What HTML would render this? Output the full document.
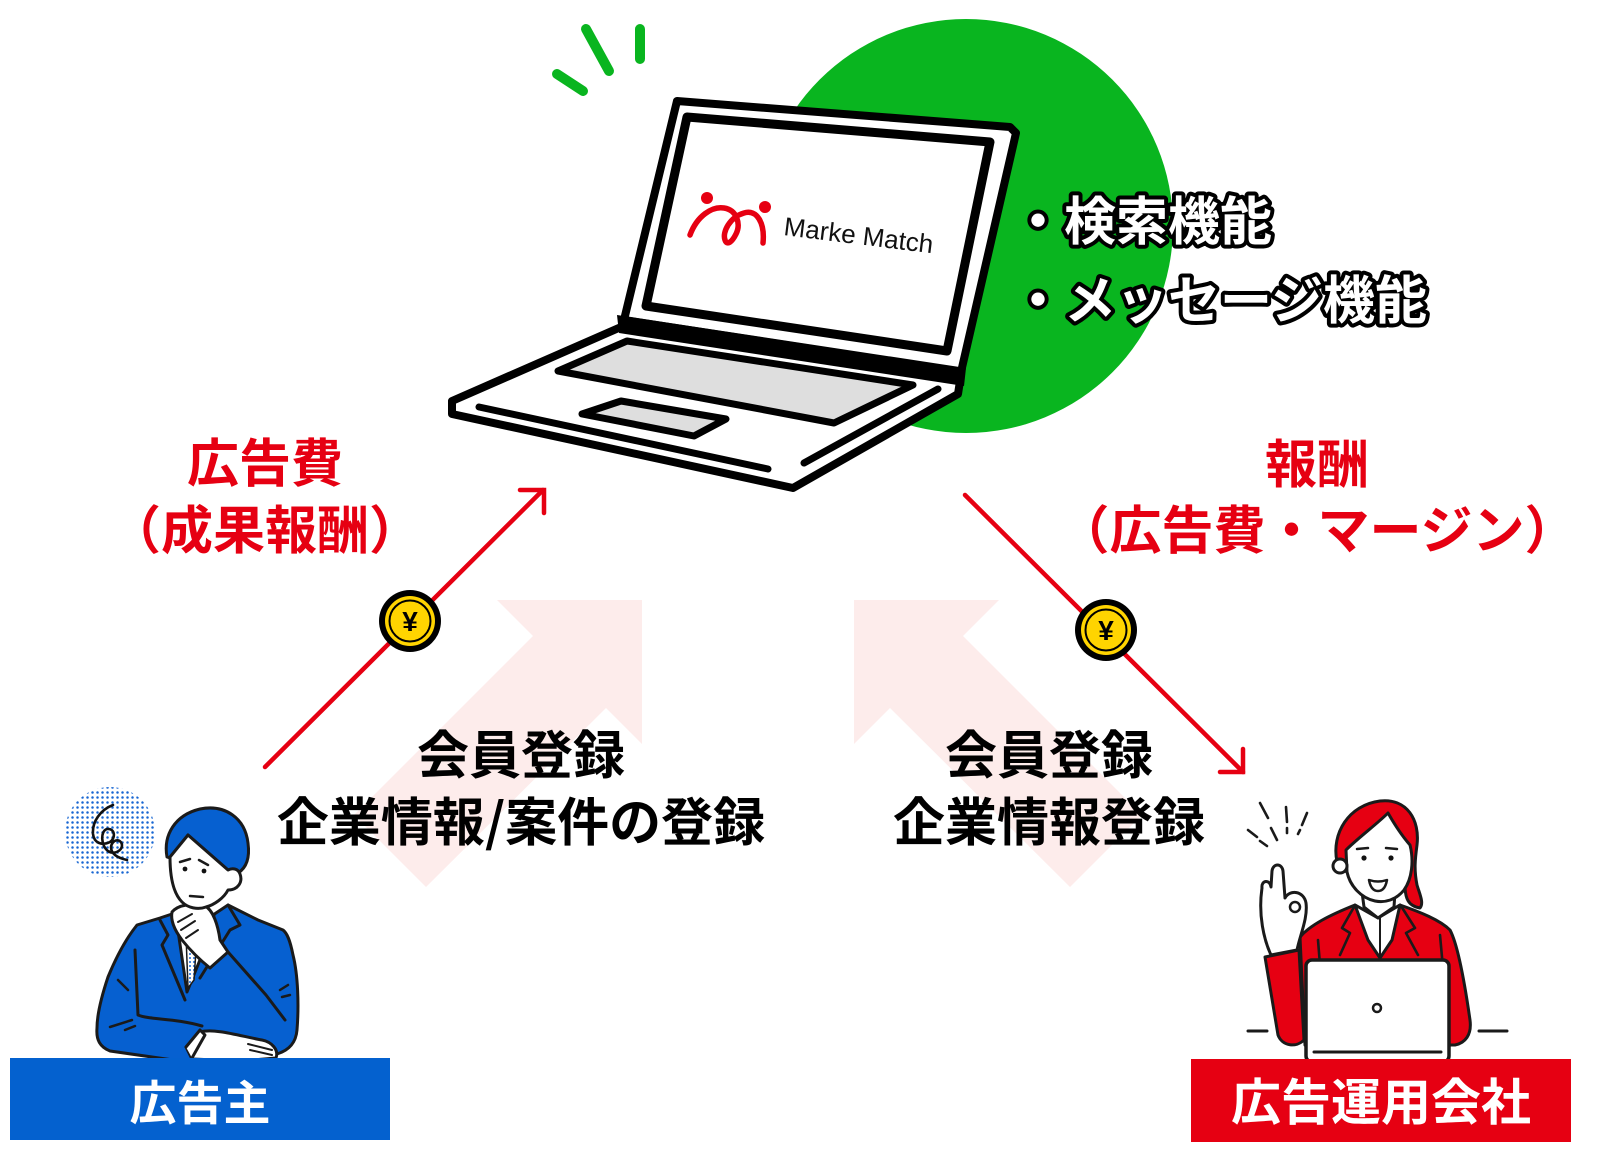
<!DOCTYPE html>
<html lang="ja">
<head>
<meta charset="utf-8">
<style>
  html,body{margin:0;padding:0;background:#fff;}
  body{width:1600px;height:1160px;overflow:hidden;}
  svg{display:block;}
  .jp{font-family:"Liberation Sans","Noto Sans CJK JP",sans-serif;font-weight:700;}
</style>
</head>
<body>
<svg width="1600" height="1160" viewBox="0 0 1600 1160" xmlns="http://www.w3.org/2000/svg">
  <defs>
    <pattern id="dots" width="5" height="5" patternUnits="userSpaceOnUse">
      <circle cx="2.5" cy="2.5" r="1.25" fill="#1766d2"/>
    </pattern>
    <pattern id="tiedots" width="4" height="4" patternUnits="userSpaceOnUse">
      <rect width="4" height="4" fill="#fff"/>
      <circle cx="2" cy="2" r="1" fill="#1766d2"/>
    </pattern>
  </defs>

  <!-- pale pink big arrows -->
  <polygon points="497,600 642,600 642,744 606,708 426,887 354,815 533,636" fill="#fdeceb"/>
  <polygon points="999,600 854,600 854,744 890,708 1070,887 1142,815 963,636" fill="#fdeceb"/>

  <!-- green circle -->
  <circle cx="966" cy="226" r="207" fill="#09b51f"/>

  <!-- green marks -->
  <g stroke="#09b51f" stroke-width="10" stroke-linecap="round" fill="none">
    <line x1="557" y1="74" x2="583" y2="91"/>
    <line x1="586" y1="29" x2="609" y2="71"/>
    <line x1="640" y1="29" x2="640" y2="59"/>
  </g>

  <!-- laptop base -->
  <polygon points="452,401 621,327 960,381 958,394 793,488 452,414" fill="#fff" stroke="#000" stroke-width="8" stroke-linejoin="round"/>
  <polygon points="558,371 627,341 913,385 834,423" fill="#dedede" stroke="#000" stroke-width="7" stroke-linejoin="round"/>
  <polygon points="582,414 621,401 726,419 694,436" fill="#dedede" stroke="#000" stroke-width="7" stroke-linejoin="round"/>
  <line x1="479" y1="407" x2="768" y2="469" stroke="#000" stroke-width="7" stroke-linecap="round"/>
  <line x1="804" y1="463" x2="938" y2="389" stroke="#000" stroke-width="7" stroke-linecap="round"/>

  <!-- laptop lid -->
  <polygon points="677,101 1010,127 1016,133 961,372 624,320" fill="#fff" stroke="#000" stroke-width="8" stroke-linejoin="round"/>
  <polygon points="687,117 990,142 947,351 646,306" fill="#fff" stroke="#000" stroke-width="9" stroke-linejoin="round"/>
  <polygon points="617,315 966,368 964,386 619,333" fill="#000"/>

  <!-- logo -->
  <g fill="none" stroke="#e60012" stroke-width="5.5" stroke-linecap="round" stroke-linejoin="round">
    <path d="M690,235 C697,216 712,206 724,208 C737,210 741,224 736,234 C732,242 727,246 725,240 C722,232 730,217 744,213 C757,209 765,223 763,243"/>
  </g>
  <circle cx="707" cy="198" r="6" fill="#e60012"/>
  <circle cx="765" cy="207" r="6" fill="#e60012"/>
  <text x="783" y="235" transform="rotate(7 783 235)" font-family="'Liberation Sans',sans-serif" font-size="26" fill="#111">Marke Match</text>

  <!-- feature text -->
  <g class="jp" font-size="52" fill="#fff" stroke="#000" stroke-width="8" stroke-linejoin="round" paint-order="stroke">
    <text x="1012" y="240">・検索機能</text>
    <text x="1012" y="319">・メッセージ機能</text>
  </g>

  <!-- red arrows -->
  <g stroke="#e60012" stroke-width="4.5" fill="none" stroke-linecap="round" stroke-linejoin="miter">
    <line x1="265" y1="767" x2="543" y2="490"/>
    <polyline points="520,490 544,490 544,513"/>
    <line x1="965" y1="495" x2="1243" y2="772"/>
    <polyline points="1243,749 1243,772 1220,772"/>
  </g>

  <!-- coins -->
  <g>
    <circle cx="410" cy="621" r="31" fill="#000"/>
    <circle cx="410" cy="621" r="25" fill="#ffd400"/>
    <circle cx="410" cy="621" r="20.5" fill="none" stroke="#000" stroke-width="2"/>
    <text x="410" y="631" text-anchor="middle" font-family="'Liberation Sans','DejaVu Sans',sans-serif" font-weight="700" font-size="28" fill="#000">¥</text>
  </g>
  <g>
    <circle cx="1106" cy="630" r="31" fill="#000"/>
    <circle cx="1106" cy="630" r="25" fill="#ffd400"/>
    <circle cx="1106" cy="630" r="20.5" fill="none" stroke="#000" stroke-width="2"/>
    <text x="1106" y="640" text-anchor="middle" font-family="'Liberation Sans','DejaVu Sans',sans-serif" font-weight="700" font-size="28" fill="#000">¥</text>
  </g>

  <!-- red labels -->
  <g class="jp" font-size="52" fill="#e60012" text-anchor="middle">
    <text x="265" y="482">広告費</text>
    <text x="265" y="549">（成果報酬）</text>
    <text x="1317" y="483">報酬</text>
    <text x="1317" y="549">（広告費・マージン）</text>
  </g>

  <!-- middle texts -->
  <g class="jp" font-size="52" fill="#000" text-anchor="middle">
    <text x="521" y="774">会員登録</text>
    <text x="521" y="841">企業情報<tspan font-family="'Noto Sans CJK JP',sans-serif">/</tspan>案件の登録</text>
    <text x="1049" y="774">会員登録</text>
    <text x="1049" y="841">企業情報登録</text>
  </g>

  <!-- ===== businessman ===== -->
  <circle cx="110" cy="832" r="45" fill="url(#dots)"/>
  <path d="M113,805 C100,810 92,822 93,834 C94,843 102,846 110,842 C116,838 115,828 107,829 C100,831 101,846 108,851 C114,855 122,851 122,845 C121,838 112,839 111,847 C111,854 118,858 127,860" fill="none" stroke="#111" stroke-width="2.6" stroke-linecap="round"/>

  <g stroke="#1a1a1a" stroke-width="3" stroke-linejoin="round" stroke-linecap="round">
    <!-- suit -->
    <path d="M137,925 C125,940 115,960 108,977 C102,995 97,1015 97,1028 C96,1040 100,1047 110,1051 L180,1061 L247,1058 L277,1054 C290,1050 296,1042 297,1030 C299,1005 298,975 293,955 C290,940 287,933 283,930 L258,920 L228,905 L213,915 L178,912 L160,918 Z" fill="#0660d0"/>
    <!-- shirt & tie -->
    <path d="M176,917 L187,992 L212,930 L214,915 Z" fill="#fff"/>
    <path d="M186,935 L197,935 L194,980 L188,988 Z" fill="url(#tiedots)" stroke-width="1.5"/>
    <!-- lapels -->
    <path d="M160,920 L168,935 L162,945 L185,1000" fill="none"/>
    <path d="M228,905 L240,925 L230,930 L200,978" fill="none"/>
    <!-- sleeve lines -->
    <path d="M135,950 L138,1015 C150,1020 175,1018 202,1026" fill="none"/>
    <path d="M228,952 L266,995 L285,1020" fill="none"/>
    <path d="M118,980 L128,990 M110,1027 L132,1020 M125,1030 L135,1026 M280,990 L288,985 M282,997 L290,995" fill="none" stroke-width="2.5"/>
    <!-- bottom hands -->
    <path d="M200,1032 C215,1028 240,1036 262,1040 C272,1042 279,1050 276,1058 L240,1061 L192,1059 L186,1047 Z" fill="#fff"/>
    <path d="M248,1044 L272,1050 M250,1050 L272,1055" fill="none" stroke-width="2"/>
    <path d="M186,1047 L200,1030 L205,1035 L192,1058" fill="#fff"/>
    <!-- chin hand -->
    <path d="M172,912 C178,905 190,903 205,906 C213,910 218,925 220,940 L228,952 L210,968 C200,960 190,950 182,940 C176,932 170,922 172,912 Z" fill="#fff"/>
    <path d="M178,922 L192,914 M181,930 L195,921 M186,938 L198,930" fill="none" stroke-width="2"/>
    <!-- hair -->
    <path d="M167,857 C163,835 175,815 200,809 C225,804 245,818 248,843 C250,858 246,868 238,873 L228,870 L188,835 L170,858 Z" fill="#0660d0"/>
    <!-- face -->
    <path d="M170,857 L188,835 L228,870 C232,868 238,868 240,874 C243,882 238,890 228,890 C224,898 214,905 206,907 C198,910 188,908 182,902 C174,894 170,880 170,857 Z" fill="#fff"/>
    <path d="M180,862 L190,859 M199,860 L208,865 M190,896 L203,897" fill="none" stroke-width="2.5"/>
  </g>
  <circle cx="185" cy="869" r="2.4" fill="#111"/>
  <circle cx="204" cy="871" r="2.4" fill="#111"/>

  <!-- ===== woman ===== -->
  <g stroke="#1a1a1a" stroke-width="3" stroke-linecap="round" stroke-linejoin="round">
    <!-- action lines -->
    <path d="M1260,803 L1268,818 M1271,828 L1277,840 M1286,807 L1287,822 M1287,828 L1287,833 M1307,813 L1302,825 M1300,830 L1298,834 M1248,830 L1257,837 M1260,841 L1267,846" fill="none" stroke-width="2.6"/>
    <!-- desk lines -->
    <path d="M1248,1031 L1267,1031 M1479,1031 L1507,1031" fill="none"/>
    <!-- hair back -->
    <path d="M1337,862 C1331,833 1349,805 1380,801 C1407,798 1420,820 1417,845 C1415,860 1414,870 1417,885 C1420,895 1424,903 1420,908 C1408,906 1405,898 1405,885 L1340,870 Z" fill="#e60012"/>
    <!-- jacket -->
    <path d="M1300,937 C1310,925 1330,915 1355,905 L1378,918 L1400,905 C1420,912 1440,920 1450,930 C1458,945 1465,985 1470,1020 C1472,1035 1465,1043 1455,1045 L1305,1045 Z" fill="#e60012"/>
    <!-- sleeve -->
    <path d="M1265,957 L1299,950 L1304,1040 C1296,1048 1282,1046 1278,1035 Z" fill="#e60012"/>
    <!-- shirt V -->
    <path d="M1355,905 L1378,918 L1400,905 L1392,940 L1380,958 L1368,940 Z" fill="#fff"/>
    <path d="M1380,918 L1380,958" fill="none" stroke-width="2"/>
    <!-- lapels -->
    <path d="M1354,907 L1342,928 L1350,933 L1340,955 M1401,906 L1415,928 L1406,933 L1418,955 M1318,940 L1322,990 M1440,935 L1445,990" fill="none" stroke-width="2.6"/>
    <!-- neck -->
    <path d="M1362,892 L1364,907 L1378,918 L1394,907 L1395,892" fill="#fff"/>
    <!-- face -->
    <path d="M1346,850 C1358,838 1377,824 1388,813 C1396,827 1403,837 1410,845 C1414,861 1412,879 1404,890 C1396,900 1385,903 1375,901 C1361,898 1350,886 1347,872 Z" fill="#fff"/>
    <circle cx="1340" cy="866" r="7" fill="#fff"/>
    <path d="M1357,849 L1368,848 M1386,848 L1397,849" fill="none" stroke-width="2.5"/>
    <path d="M1369,880 Q1378,883 1387,880 Q1385,891 1378,891 Q1371,891 1369,880 Z" fill="#fff" stroke-width="2.5"/>
    <!-- hand -->
    <path d="M1262,888 C1261,880 1270,879 1271,887 L1272,871 C1273,863 1282,863 1283,871 L1285,898 C1290,889 1304,891 1306,903 C1308,918 1300,935 1297,950 L1271,955 C1264,940 1258,915 1262,888 Z" fill="#fff"/>
    <circle cx="1295" cy="907" r="5" fill="none" stroke-width="2.5"/>
    <!-- laptop -->
    <rect x="1306" y="960" width="143" height="102" rx="6" fill="#fff" stroke-width="3.5"/>
    <circle cx="1377" cy="1008" r="4" fill="#fff" stroke-width="2.5"/>
    <line x1="1314" y1="1052" x2="1441" y2="1052"/>
  </g>
  <circle cx="1364" cy="858" r="2.6" fill="#111"/>
  <circle cx="1391" cy="858" r="2.6" fill="#111"/>

  <!-- label boxes -->
  <rect x="10" y="1058" width="380" height="82" fill="#0461cf"/>
  <rect x="1191" y="1059" width="380" height="83" fill="#e60012"/>
  <g class="jp" fill="#fff" text-anchor="middle">
    <text x="200" y="1120" font-size="47">広告主</text>
    <text x="1381" y="1120" font-size="50">広告運用会社</text>
  </g>
</svg>
</body>
</html>
